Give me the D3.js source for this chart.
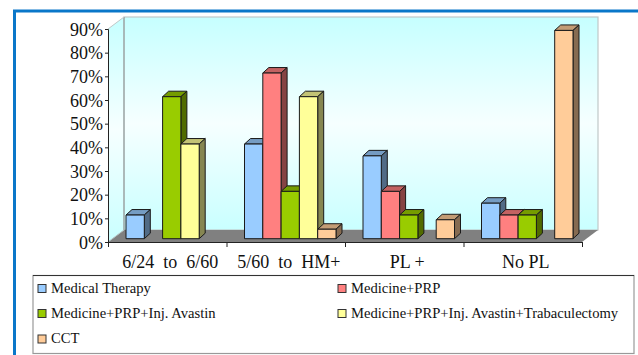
<!DOCTYPE html>
<html>
<head>
<meta charset="utf-8">
<script src="https://cdn.jsdelivr.net/npm/d3@7"></script>
<style>
  html, body { margin: 0; padding: 0; background: #fff; }
  svg { display: block; }
  text { font-family: "Liberation Serif", serif; fill: #111; white-space: pre; }
</style>
</head>
<body>
<svg id="chart" width="638" height="355"></svg>
<script>
var categories = ['6/24  to  6/60', '5/60  to  HM+', 'PL +', 'No PL'];
var seriesNames = ['Medical Therapy', 'Medicine+PRP', 'Medicine+PRP+Inj. Avastin', 'Medicine+PRP+Inj. Avastin+Trabaculectomy', 'CCT'];
var medicalTherapy = [10, 40, 35, 15];
var medicinePrp = [0, 70, 20, 10];
var prpAvastin = [60, 20, 10, 10];
var prpAvastinTrab = [40, 60, 0, 0];
var cct = [0, 4, 8, 88];
var seriesValues = [medicalTherapy, medicinePrp, prpAvastin, prpAvastinTrab, cct];
var seriesColors = ['#99ccff', '#ff8080', '#99cc00', '#ffff99', '#ffcc99'];
var yTicks = [0, 10, 20, 30, 40, 50, 60, 70, 80, 90];

var svg = d3.select('#chart');
var plotLeft = 108, plotRight = 582, plotBottom = 242, plotTop = 29;
var depthX = 16, depthY = -12;      // depth of the 3d box
var barDepthX = 6, barDepthY = -5.5;
var barShiftX = 4, barShiftY = -3.3; // bars stand a little behind the front edge

var y = d3.scaleLinear().domain([0, 90]).range([plotBottom, plotTop]);
var x0 = d3.scaleBand().domain(categories).range([plotLeft, plotRight]);
var x1 = d3.scaleBand().domain(d3.range(seriesNames.length)).range([14, 14 + 91.5]);

function poly(points) {
    return points.map(function(p) { return p.join(','); }).join(' ');
}

// wall gradient
var defs = svg.append('defs');
var grad = defs.append('linearGradient').attr('id', 'wall')
    .attr('x1', 0).attr('y1', 0).attr('x2', 0).attr('y2', 1);
grad.append('stop').attr('offset', '0%').attr('stop-color', '#c6ffff');
grad.append('stop').attr('offset', '50%').attr('stop-color', '#f6ffff');
grad.append('stop').attr('offset', '100%').attr('stop-color', '#c9ffff');

// outer blue frame
svg.append('path')
    .attr('d', 'M14.5,355 V11 H638')
    .attr('fill', 'none')
    .attr('stroke', '#0a77c9')
    .attr('stroke-width', 3);

// side wall
svg.append('polygon')
    .attr('points', poly([[plotLeft, plotTop], [plotLeft + depthX, plotTop + depthY], [plotLeft + depthX, plotBottom + depthY], [plotLeft, plotBottom]]))
    .attr('fill', 'url(#wall)');
// back wall
svg.append('rect')
    .attr('x', plotLeft + depthX).attr('y', plotTop + depthY)
    .attr('width', plotRight - plotLeft).attr('height', plotBottom - plotTop)
    .attr('fill', 'url(#wall)')
    .attr('stroke', '#c0c8c8').attr('stroke-width', 1.2);
svg.append('line')
    .attr('x1', plotLeft + depthX).attr('x2', plotLeft + depthX)
    .attr('y1', plotTop + depthY).attr('y2', plotBottom + depthY)
    .attr('stroke', '#8a9494');
svg.append('line')
    .attr('x1', plotLeft).attr('y1', plotTop)
    .attr('x2', plotLeft + depthX).attr('y2', plotTop + depthY)
    .attr('stroke', '#c0c8c8');
// floor
svg.append('polygon')
    .attr('points', poly([[plotLeft, plotBottom], [plotLeft + depthX, plotBottom + depthY], [plotRight + depthX, plotBottom + depthY], [plotRight, plotBottom]]))
    .attr('fill', '#808080');
svg.append('line')
    .attr('x1', plotLeft).attr('y1', plotBottom)
    .attr('x2', plotLeft + depthX).attr('y2', plotBottom + depthY)
    .attr('stroke', '#b4c4c4');

// bars
categories.forEach(function(cat, c) {
    seriesValues.forEach(function(values, s) {
        var v = values[c];
        if (!v) return;
        var bx = x0(cat) + x1(s) + barShiftX;
        var bw = x1.bandwidth();
        var by = y(v) + barShiftY;
        var b0 = y(0) + barShiftY;
        var col = d3.color(seriesColors[s]);
        var g = svg.append('g').attr('stroke', '#1a1a1a').attr('stroke-width', 1).attr('stroke-linejoin', 'round');
        g.append('polygon') // top
            .attr('points', poly([[bx, by], [bx + barDepthX, by + barDepthY], [bx + bw + barDepthX, by + barDepthY], [bx + bw, by]]))
            .attr('fill', col.darker(0.75));
        g.append('polygon') // side
            .attr('points', poly([[bx + bw, by], [bx + bw + barDepthX, by + barDepthY], [bx + bw + barDepthX, b0 + barDepthY], [bx + bw, b0]]))
            .attr('fill', col.darker(1.8));
        g.append('rect') // front
            .attr('x', bx).attr('y', by)
            .attr('width', bw).attr('height', b0 - by)
            .attr('fill', col);
    });
});

// y axis
var yAxis = svg.append('g')
    .attr('transform', 'translate(' + plotLeft + ',0)')
    .call(d3.axisLeft(y).tickValues(yTicks).tickSize(3).tickPadding(2).tickFormat(function(d) { return d + '%'; }));
yAxis.select('.domain').attr('stroke', '#222');
yAxis.selectAll('.tick line').attr('stroke', '#222');
yAxis.selectAll('text').attr('font-size', 18).attr('dy', '0.35em').style('font-family', '"Liberation Serif", serif').attr('fill', '#111');

// x axis, ticks on the category edges
var xEdges = categories.map(function(c) { return x0(c); }).concat([plotRight]);
var xAxis = svg.append('g')
    .attr('transform', 'translate(0,' + plotBottom + ')')
    .call(d3.axisBottom(d3.scaleLinear().domain([plotLeft, plotRight]).range([plotLeft, plotRight]))
        .tickValues(xEdges).tickSize(5).tickFormat(''));
xAxis.select('.domain').attr('stroke', '#222');
xAxis.selectAll('.tick line').attr('stroke', '#222');

svg.selectAll('.cat-label')
    .data(categories)
    .enter().append('text')
    .attr('class', 'cat-label')
    .attr('x', function(d) { return x0(d) + x0.bandwidth() / 2 + 3; })
    .attr('y', 268)
    .attr('text-anchor', 'middle')
    .attr('font-size', 18)
    .text(function(d) { return d; });

// legend
svg.append('rect')
    .attr('x', 33).attr('y', 275.5)
    .attr('width', 601).attr('height', 78)
    .attr('fill', '#fff')
    .attr('stroke', '#999').attr('stroke-width', 1.2);
svg.append('line')
    .attr('x1', 33).attr('x2', 634).attr('y1', 275.5).attr('y2', 275.5)
    .attr('stroke', '#333');

var legendX = [38, 338];
var legendY = [288.5, 313.5, 339];
seriesNames.forEach(function(name, i) {
    var lx = legendX[i % 2], ly = legendY[Math.floor(i / 2)];
    svg.append('rect')
        .attr('x', lx).attr('y', ly - 4)
        .attr('width', 8).attr('height', 8)
        .attr('fill', seriesColors[i])
        .attr('stroke', '#333');
    svg.append('text')
        .attr('x', lx + 13).attr('y', ly + 4)
        .attr('font-size', 14.6)
        .text(name);
});
</script>
</body>
</html>
